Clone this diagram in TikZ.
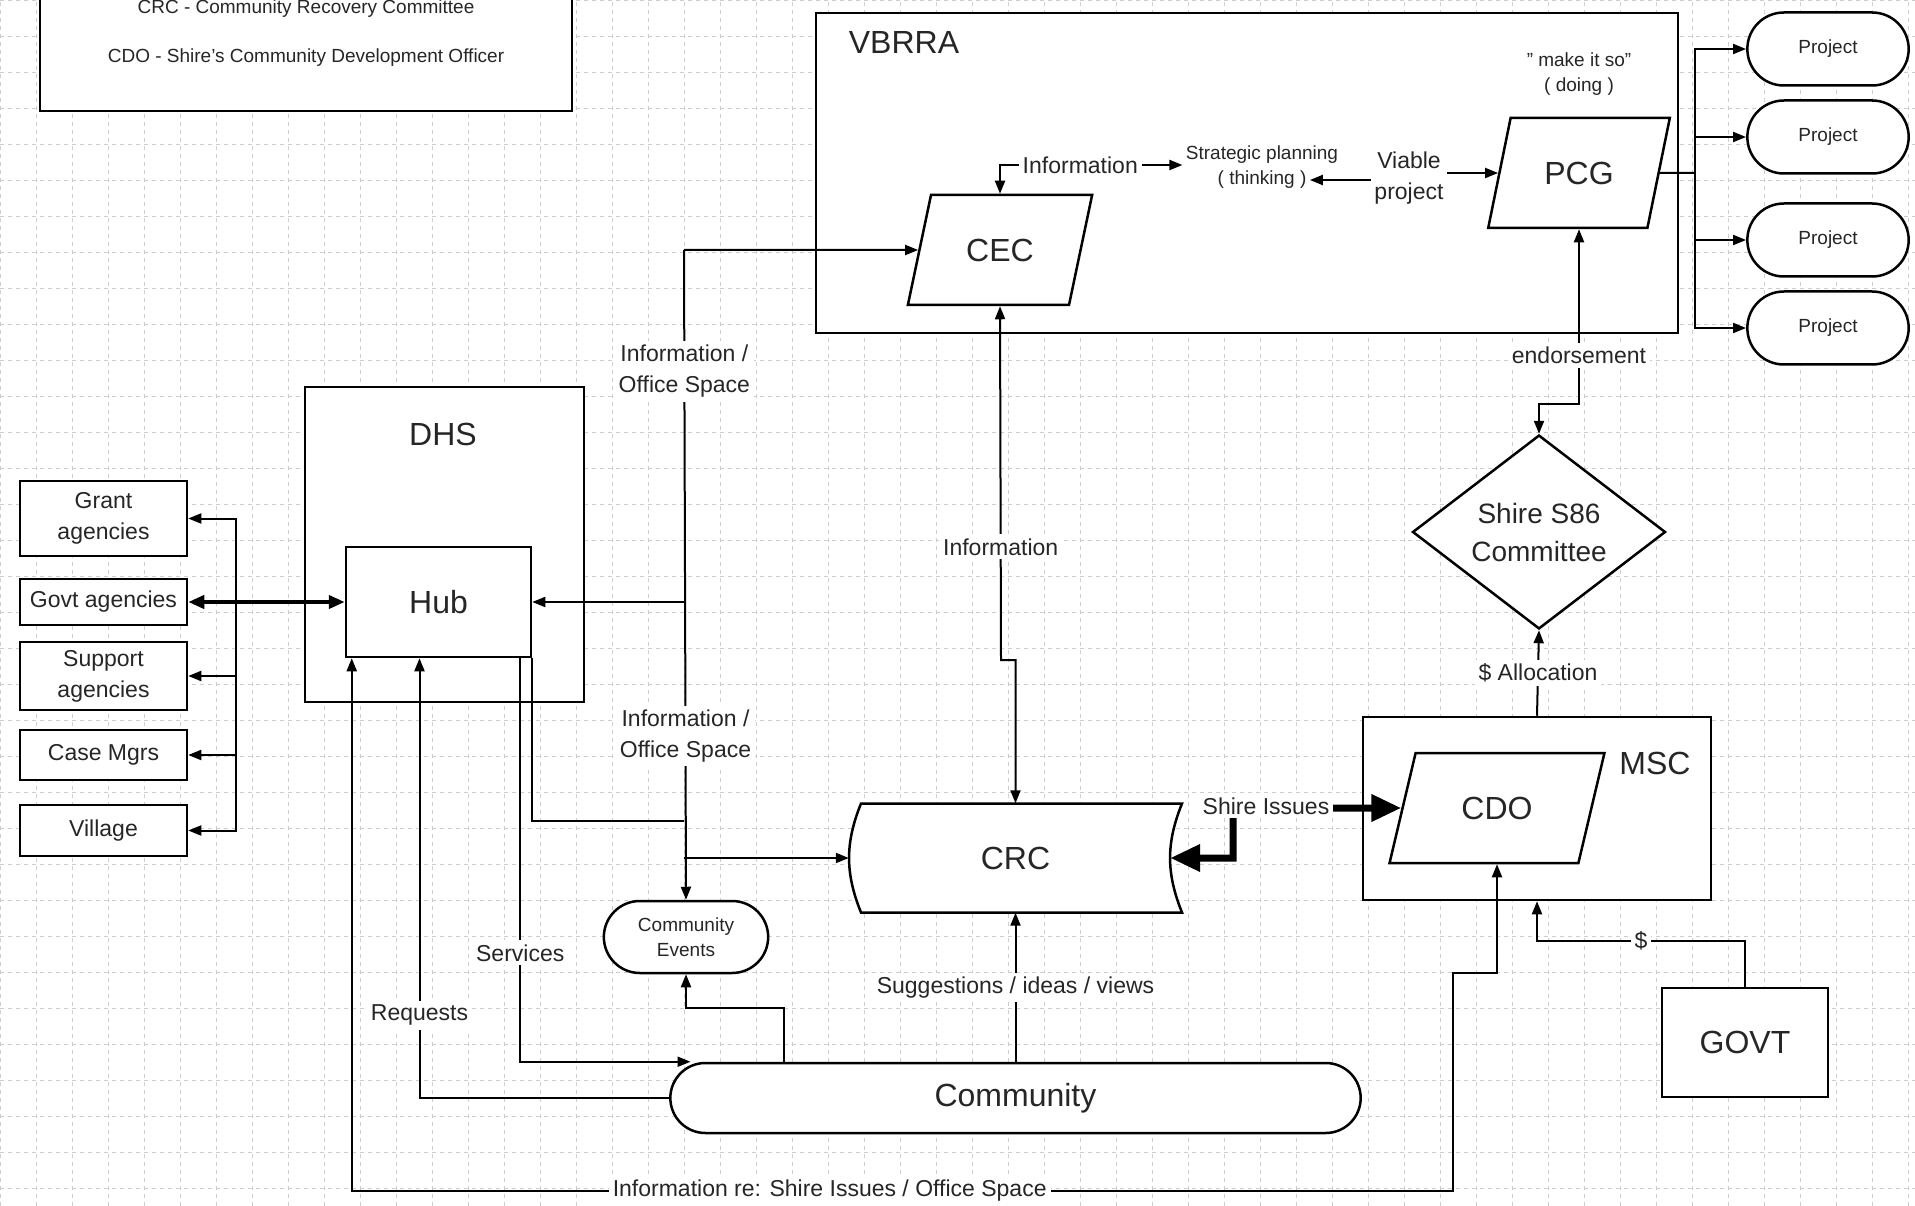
\documentclass[tikz,border=0pt]{standalone}
\usepackage{fontspec}
\setmainfont{Liberation Sans}
\usetikzlibrary{shapes.geometric, shapes.misc, arrows.meta}
\newcommand{\fbig}{\fontsize{32}{36}\selectfont}
\newcommand{\fmid}{\fontsize{23}{31}\selectfont}
\newcommand{\fsmall}{\fontsize{19}{24.5}\selectfont}
\newcommand{\fdia}{\fontsize{28}{38}\selectfont}
\tikzstyle{box} = [rectangle, draw=black, line width=2.5pt, fill=white, text=black!85]
\tikzstyle{agency} = [box, minimum width=167pt, align=center, inner sep=2pt, font=\fmid]
\tikzstyle{para} = [trapezium, trapezium stretches=true, trapezium left angle=67, trapezium right angle=113, draw=black, line width=2.5pt, fill=white, text=black!85, font=\fbig]
\tikzstyle{pill} = [rounded rectangle, draw=black, line width=2.5pt, fill=white, text=black!85]
\tikzstyle{decide} = [diamond, draw=black, line width=2.5pt, fill=white, text=black!85, minimum width=253pt, minimum height=185pt, inner sep=0pt, align=center, font=\fdia]
\tikzstyle{lbl} = [fill=white, inner sep=4pt, align=center, text=black!85, font=\fmid]
\tikzstyle{arrow} = [line width=2pt, ->, >={Triangle[length=13pt, width=10pt]}]
\tikzstyle{twoway} = [arrow, <->]
\tikzstyle{heavy} = [line width=4pt, <->, >={Triangle[length=16pt, width=13pt]}]
\tikzstyle{huge} = [line width=7pt, <->, >={Triangle[length=30pt, width=26pt]}]

\begin{document}
\begin{tikzpicture}[x=1pt, y=-1pt]
\useasboundingbox (0,0) rectangle (1915,1206);
\clip (0,0) rectangle (1915,1206);
\draw [step=36pt, gray!40, dash pattern=on 4pt off 4pt, line width=0.8pt] (0,0) grid (1915,1206);

% containers
\node (legend) [box, minimum width=532pt, minimum height=156pt, align=center, font=\fsmall] at (306,33) {CRC - Community Recovery Committee\\[24pt]CDO - Shire's Community Development Officer};
\node (vbrra) [box, minimum width=862pt, minimum height=320pt] at (1247,173) {};
\node (vbrratitle) [font=\fbig, text=black!85] at (904,42) {VBRRA};
\node (dhs) [box, minimum width=279pt, minimum height=315pt] at (444.5,544.5) {};
\node (dhstitle) [font=\fbig, text=black!85] at (443,434) {DHS};
\node (msc) [box, minimum width=348pt, minimum height=183pt] at (1537,808.5) {};
\node (msctitle) [font=\fbig, text=black!85] at (1655,763) {MSC};

% VBRRA
\node (cec) [para, minimum width=186pt, minimum height=110pt] at (1000,250) {CEC};
\node (pcg) [para, minimum width=182pt, minimum height=110pt] at (1579,173) {PCG};
\node (makeitso) [font=\fsmall, align=center, text=black!85] at (1579,74) {" make it so"\\( doing )};
\node (strategic) [font=\fsmall, text=black!85] at (1262,155) {Strategic planning};
\node (thinking) [font=\fsmall, text=black!85] at (1262,180) {( thinking )};
\node (viable) [font=\fmid, align=center, text=black!85] at (1409,178) {Viable\\project};

\node (proj1) [pill, minimum width=168pt, minimum height=73pt, font=\fsmall] at (1828,49) {Project};
\node (proj2) [pill, minimum width=168pt, minimum height=73pt, font=\fsmall] at (1828,137) {Project};
\node (proj3) [pill, minimum width=168pt, minimum height=73pt, font=\fsmall] at (1828,240) {Project};
\node (proj4) [pill, minimum width=168pt, minimum height=73pt, font=\fsmall] at (1828,328) {Project};

% shire side
\node (s86) [decide] at (1539,532) {Shire S86\\Committee};
\node (cdo) [para, minimum width=215pt, minimum height=110pt] at (1497,808) {CDO};
\node (govt) [box, minimum width=166pt, minimum height=109pt, font=\fbig] at (1745,1042.5) {GOVT};

% DHS side
\node (hub) [box, minimum width=185pt, minimum height=110pt, font=\fbig] at (438.5,602) {Hub};
\node (grant) [agency, minimum height=75pt] at (103.5,518.5) {Grant\\agencies};
\node (govtag) [agency, minimum height=46pt] at (103.5,602) {Govt agencies};
\node (support) [agency, minimum height=68pt] at (103.5,676) {Support\\agencies};
\node (casemgr) [agency, minimum height=50pt] at (103.5,755) {Case Mgrs};
\node (village) [agency, minimum height=51pt] at (103.5,830.5) {Village};

% CRC and community
\draw [line width=2.5pt, fill=white] (861,803.5) -- (1182,803.5) to[bend right=22] (1182,912.5) -- (861,912.5) to[bend left=22] (861,803.5) -- cycle;
\node (crc) [minimum width=333pt, minimum height=109pt, font=\fbig, text=black!85] at (1015.5,858) {CRC};
\node (comm) [pill, minimum width=697pt, minimum height=70pt, font=\fbig] at (1015.5,1098) {Community};
\node (events) [pill, minimum width=171pt, minimum height=72pt, font=\fsmall, align=center] at (686,937) {Community\\Events};

% connectors
\coordinate (split) at (1695,173);
\coordinate (trunk) at (236,602);
\coordinate (bus) at (684,250);
\coordinate (hubbus) at (684,821);
\coordinate (infojog) at (1001,660);
\coordinate (shirebend) at (1233,808);
\coordinate (shireA) at (1453,1191);
\coordinate (shireB) at (1453,973);

\draw [twoway] (cec.north) |- node[lbl, pos=0.72] {Information} ([yshift=-10pt]strategic.west);
\draw [arrow] (viable.west |- thinking.east) -- (thinking.east);
\draw [arrow] (viable.east |- pcg.west) -- (pcg.west);
\draw [line width=2pt] (split) -- (pcg.east);
\draw [arrow] (split) |- (proj1.west);
\draw [arrow] (split) |- (proj2.west);
\draw [arrow] (split) |- (proj3.west);
\draw [arrow] (split) |- (proj4.west);
\draw [twoway] (pcg.south) -- node[lbl, pos=0.72] {endorsement} ++(0,175) -| (s86.north);
\draw [arrow] (msc.north) -- node[lbl] {\$ Allocation} (s86.south);
\draw [huge] ([xshift=-12pt]crc.east) -| (shirebend) -- (cdo.west);
\node (shire) [lbl] at (1266,806) {Shire Issues};
\draw [twoway] (cec.south) -- node[lbl, pos=0.68] {Information} (infojog) -| (crc.north);

\draw [heavy] (govtag.east) -- (hub.west);
\draw [arrow] (trunk) |- (grant.east);
\draw [arrow] (trunk) |- (support.east);
\draw [arrow] (trunk) |- (casemgr.east);
\draw [arrow] (trunk) |- (village.east);

\draw [arrow] (bus) -- (cec.west);
\draw [arrow] (bus) -- node[lbl, pos=0.187] {Information /\\Office Space} node[lbl, pos=0.748] {Information /\\Office Space} (events.north);
\draw [arrow] (bus |- hub.east) -- (hub.east);
\draw [arrow] (bus |- crc.west) -- (crc.west);
\draw [line width=2pt] (hub.south east) |- (hubbus);
\draw [arrow] ([xshift=-12pt]hub.south east) |- node[lbl, pos=0.365] {Services} ([xshift=-325pt]comm.north);
\draw [arrow] (comm.west) -| node[lbl, pos=0.594] {Requests} ([xshift=-19pt]hub.south);
\draw [twoway] ([xshift=7pt]hub.south west) |- node[lbl, pos=0.717] {Information re: Shire Issues / Office Space} (shireA) -- (shireB) -| (cdo.south);
\draw [arrow] (comm.north) -- node[lbl] {Suggestions / ideas / views} (crc.south);
\draw [arrow] ([xshift=-232pt]comm.north) -- ++(0,-54) -| (events.south);
\draw [arrow] (govt.north) -- ++(0,-46) -| node[lbl, pos=0.25] {\$} (msc.south);

\end{tikzpicture}
\end{document}
